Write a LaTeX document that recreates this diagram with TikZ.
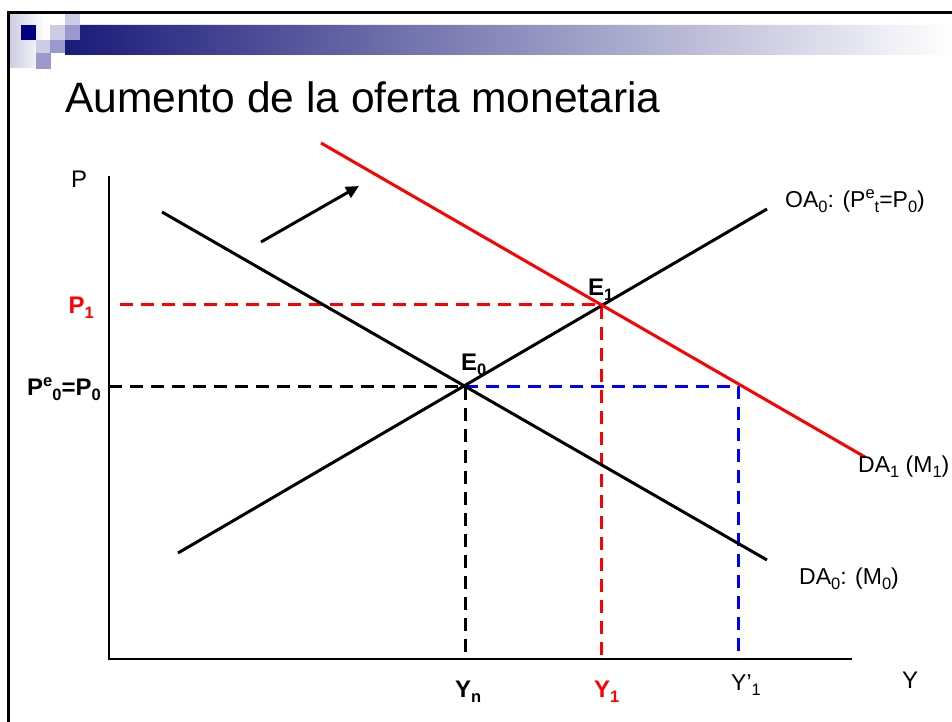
\documentclass[tikz,border=0pt]{standalone}
\usepackage{fontspec}
\setmainfont{Liberation Sans}
\usetikzlibrary{arrows.meta}
\newcommand\lo[1]{\raisebox{-5.5pt}{\fontsize{16.5}{16.5}\selectfont #1}}
\newcommand\up[1]{\raisebox{8.5pt}{\fontsize{16.5}{16.5}\selectfont #1}}
\definecolor{navysq}{RGB}{0,0,128}
\definecolor{lightsq}{RGB}{204,204,230}
\definecolor{midsq}{RGB}{153,153,204}
\definecolor{bandnavy}{RGB}{26,26,122}
\definecolor{bandmid}{RGB}{160,160,188}
\definecolor{lav}{RGB}{205,205,225}
\begin{document}
\begin{tikzpicture}[x=1pt,y=-1pt,
  curve/.style={line width=3pt},
  dashl/.style={line width=3pt, dash pattern=on 13pt off 8pt},
  lbl/.style={inner sep=0pt, font=\fontsize{23}{27}\selectfont},
  blbl/.style={inner sep=0pt, font=\fontsize{24}{28}\selectfont\bfseries}]
\useasboundingbox (0,0) rectangle (952,722);
\fill[white] (0,0) rectangle (952,722);
% header decoration
\shade[left color=lav, right color=white] (10,14) rectangle (45,68);
\shade[left color=bandnavy, middle color=bandmid, right color=white]
  (80,25) -- (952,25) -- (952,55) -- (65,55) -- (65,40) -- (80,40) -- cycle;
\fill[navysq] (21,25) rectangle (36,40);
\fill[lightsq] (65,13) rectangle (80,25);
\fill[lightsq] (50,25) rectangle (65,40);
\fill[midsq] (65,25) rectangle (80,40);
\fill[lightsq] (36,40) rectangle (50,53);
\fill[midsq] (50,40) rectangle (65,53);
\fill[midsq] (36,53) rectangle (51,69);
% frame
\draw[line width=2.5pt] (8.5,730) -- (8.5,12.5) -- (960,12.5);
% title
\node[anchor=base west, inner sep=0pt, font=\fontsize{42.5}{50}\selectfont] (title) at (65,113) {Aumento de la oferta monetaria};
% axes
\coordinate (O) at (109,659);
\coordinate (ytop) at (109,176);
\coordinate (xend) at (852,659);
\draw[line width=1.2pt] (ytop) -- (O) -- (xend);
% key points
\coordinate (E0) at (465,386);
\coordinate (E1) at (601,304);
% dashed guides
\coordinate (p1s) at (120,304);
\coordinate (y1b) at (601,659);
\coordinate (p0s) at (109,386);
\coordinate (ynb) at (465,659);
\coordinate (bq) at (738,386);
\coordinate (bqb) at (738,659);
\draw[dashl, red] (p1s) -- (E1) -- (y1b);
\draw[dashl, black] (p0s) -- (E0) -- (ynb);
\draw[dashl, blue] (E0) -- (bq) -- (bqb);
% curves
\coordinate (oa1) at (178,553);
\coordinate (oa2) at (767,209);
\coordinate (da01) at (162,212);
\coordinate (da02) at (767,560);
\coordinate (da11) at (321,143);
\coordinate (da12) at (865,457);
\draw[curve] (oa1) -- (oa2);
\draw[curve] (da01) -- (da02);
\draw[curve, red] (da11) -- (da12);
% shift arrow
\coordinate (a1) at (261,242);
\coordinate (a2) at (359,186);
\draw[curve, -{Triangle[length=13pt,width=12pt]}] (a1) -- (a2);
% labels
\node[lbl, anchor=base west, font=\fontsize{24}{28}\selectfont] (lP) at (71,187) {P};
\node[blbl, red, anchor=base east] (lP1) at (94,313) {P\lo{1}};
\node[blbl, anchor=base east] (lP0) at (101,395) {P\up{e}\lo{0}=P\lo{0}};
\node[blbl, anchor=base west] (lE0) at (461,370) {E\lo{0}};
\node[blbl, anchor=base west] (lE1) at (588,295) {E\lo{1}};
\node[lbl, anchor=base west] (lOA) at (785,207) {OA\lo{0}: (P\up{e}\lo{t}=P\lo{0})};
\node[lbl, anchor=base west] (lDA1) at (858,472) {DA\lo{1} (M\lo{1})};
\node[lbl, anchor=base west] (lDA0) at (799,584) {DA\lo{0}: (M\lo{0})};
\node[blbl, anchor=base west] (lYn) at (455,697) {Y\lo{n}};
\node[blbl, red, anchor=base west] (lY1) at (594,697) {Y\lo{1}};
\node[lbl, anchor=base west] (lYp) at (731,690) {Y’\lo{1}};
\node[lbl, anchor=base west, font=\fontsize{24}{28}\selectfont] (lY) at (902,688) {Y};
\end{tikzpicture}
\end{document}
